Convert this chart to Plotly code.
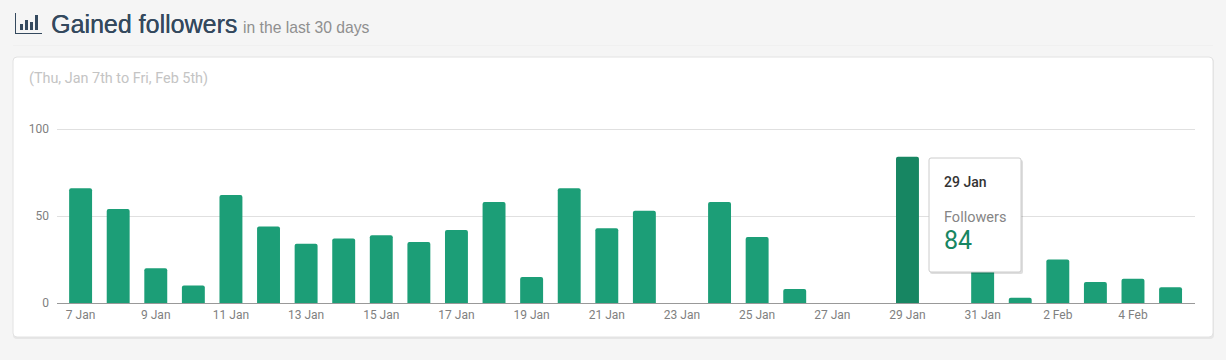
import plotly.graph_objects as go

days = ["7 Jan","8 Jan","9 Jan","10 Jan","11 Jan","12 Jan","13 Jan","14 Jan","15 Jan","16 Jan",
        "17 Jan","18 Jan","19 Jan","20 Jan","21 Jan","22 Jan","23 Jan","24 Jan","25 Jan","26 Jan",
        "27 Jan","28 Jan","29 Jan","30 Jan","31 Jan","1 Feb","2 Feb","3 Feb","4 Feb","5 Feb"]
followers = [66,54,20,10,62,44,34,37,39,35,42,58,15,66,43,53,0,58,38,8,0,0,84,0,30,3,25,12,14,9]
tick_labels = days[::2]
highlight_day = "29 Jan"

W, H = 1226, 360
# plot area runs 2px above the 100 gridline so the gridline is not dropped at the axis end
L, R, T, B = 57, 1195, 127, 303
Y_MAX = 100 * (B - T) / 174
px = lambda x: (x - L) / (R - L)
py = lambda y: (B - y) / (B - T)

def rrect(x0, y0, x1, y1, r, **kw):
    a0, a1, b0, b1 = px(x0), px(x1), py(y0), py(y1)
    rx, ry = r / (R - L), r / (B - T)
    path = (f"M{a0+rx},{b0} L{a1-rx},{b0} Q{a1},{b0} {a1},{b0-ry} L{a1},{b1+ry} Q{a1},{b1} {a1-rx},{b1} "
            f"L{a0+rx},{b1} Q{a0},{b1} {a0},{b1+ry} L{a0},{b0-ry} Q{a0},{b0} {a0+rx},{b0} Z")
    return dict(type="path", xref="paper", yref="paper", path=path, **kw)

def box(x0, y0, x1, y1, color, layer="below"):
    return dict(type="rect", xref="paper", yref="paper", x0=px(x0), x1=px(x1), y0=py(y0), y1=py(y1),
                fillcolor=color, line_width=0, layer=layer)

def label(x, y, text, size, color, font="Roboto", weight=None, shadow=None):
    f = dict(family=font, size=size, color=color)
    if weight:
        f["weight"] = weight
    if shadow:
        f["shadow"] = shadow
    return dict(xref="paper", yref="paper", x=px(x), y=py(y), text=text, showarrow=False,
                xanchor="left", yanchor="middle", font=f, align="left", borderpad=0, borderwidth=0)

fig = go.Figure(go.Bar(
    x=days, y=followers, width=0.61,
    marker=dict(color=["#178662" if d == highlight_day else "#1c9e77" for d in days],
                line_width=0, cornerradius=2),
    hoverinfo="skip",
))

shapes = [
    box(13, 45, 1213, 46, "#f0f0f0"),
    rrect(13, 58, 1214, 339, 4, fillcolor="#e6e6e6", line_width=0, layer="below"),
    rrect(13, 57, 1213, 337, 4, fillcolor="#ffffff", line=dict(color="#e2e2e2", width=1), layer="below"),
    box(15, 13, 16, 34, "#34495e"), box(15, 33, 42, 34, "#34495e"),
    box(20, 24, 23, 30, "#34495e"), box(25, 20, 28, 30, "#34495e"),
    box(30, 22, 33, 30, "#34495e"), box(35, 15, 38, 30, "#34495e"),
    rrect(930, 160, 1023, 274, 2, fillcolor="rgba(0,0,0,0.13)", line_width=0, layer="above"),
    rrect(929, 158, 1021, 272, 2, fillcolor="#ffffff", line=dict(color="#cccccc", width=1), layer="above"),
]

annotations = [
    label(51, 24, "Gained followers", 25, "#34495e", "Liberation Sans", shadow="0.3px 0 0 #34495e"),
    label(243, 27, "in the last 30 days", 15.7, "#8f8f8f", "Liberation Sans"),
    label(29, 78, "(Thu, Jan 7th to Fri, Feb 5th)", 14.4, "#c4c4c4"),
    label(944, 182, "29 Jan", 14, "#333333", "Roboto", 500),
    label(944, 217, "Followers", 14.5, "#858585"),
    label(944, 240, str(followers[days.index(highlight_day)]), 25, "#178662"),
]

fig.update_layout(
    width=W, height=H,
    margin=dict(l=L, r=W - R, t=T, b=H - B, pad=0),
    paper_bgcolor="#f5f5f5", plot_bgcolor="rgba(0,0,0,0)",
    showlegend=False, shapes=shapes, annotations=annotations, bargap=0.39,
    font=dict(family="Roboto", size=12, color="#808080"),
    xaxis=dict(type="category", range=[-0.628, 29.65], tickmode="array", tickvals=tick_labels,
               ticktext=tick_labels, showgrid=False, ticks="", showline=True, linecolor="#999999",
               linewidth=1, ticklabelstandoff=1, tickfont=dict(size=12, color="#808080"), fixedrange=True),
    yaxis=dict(range=[0, Y_MAX], tickvals=[0, 50, 100], gridcolor="#e0e0e0", gridwidth=1, zeroline=False,
               showline=False, ticks="", ticklabelstandoff=7, tickfont=dict(size=12, color="#808080"), fixedrange=True),
)
fig.write_html("out.html", config={"displayModeBar": False},
               post_script="document.body.style.margin='0';document.body.style.overflow='hidden';")
